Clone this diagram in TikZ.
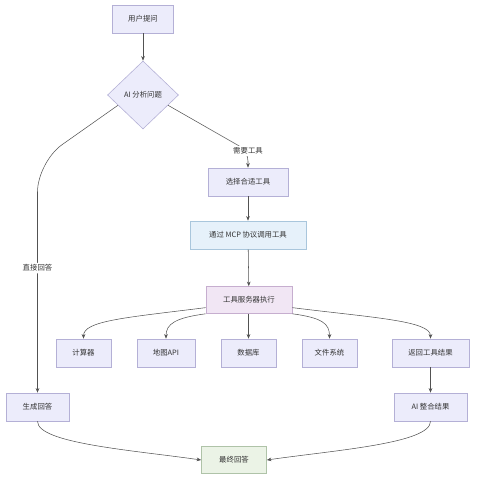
\documentclass[tikz,border=0pt]{standalone}
\usepackage{fontspec}
\setmainfont{Noto Sans CJK SC}
\usepackage{tikz}
\usetikzlibrary{arrows.meta,positioning,calc,shapes.geometric}
\definecolor{boxfill}{HTML}{ECECFB}
\definecolor{boxline}{HTML}{B4B0D6}
\definecolor{mcpfill}{HTML}{E6F1FA}
\definecolor{mcpline}{HTML}{A9C6DC}
\definecolor{srvfill}{HTML}{F1E6F4}
\definecolor{srvline}{HTML}{C6AECF}
\definecolor{endfill}{HTML}{EBF3E6}
\definecolor{endline}{HTML}{AFC3A8}
\definecolor{ink}{HTML}{333333}
\begin{document}
\begin{tikzpicture}[x=0.03cm,y=-0.03cm,
  box/.style={draw=boxline,fill=boxfill,line width=0.5pt,align=center,text=ink,
     font=\fontsize{6.3}{7.5}\selectfont,inner sep=0pt,minimum height=0.84cm,minimum width=#1},
  box/.default=1.65cm,
  dec/.style={diamond,draw=boxline,fill=boxfill,line width=0.5pt,text=ink,
     font=\fontsize{6.3}{7.5}\selectfont,inner sep=0pt,minimum width=2.13cm,minimum height=2.04cm},
  lbl/.style={fill=white,text=ink,font=\fontsize{6.3}{7.5}\selectfont,inner sep=1.5pt},
  arr/.style={-{Stealth[length=1.4mm,width=1.1mm]},draw=ink!85,line width=0.45pt}]
\useasboundingbox (0,0) rectangle (478,481);
\node[box=1.83cm] (ask) at (143,19) {用户提问};
\node[dec] (ai) at (143,95) {AI 分析问题};
\node[box=2.4cm] (pick) at (248,182) {选择合适工具};
\node[box=3.48cm,draw=mcpline,fill=mcpfill] (mcp) at (248,235) {通过 MCP 协议调用工具};
\node[box=2.58cm,draw=srvline,fill=srvfill,minimum height=0.81cm] (srv) at (249,300) {工具服务器执行};
\node[box] (calc) at (83.5,353) {计算器};
\node[box=1.74cm] (map) at (166,353) {地图API};
\node[box] (db) at (248.5,353) {数据库};
\node[box] (fs) at (329.5,353) {文件系统};
\node[box=2.31cm] (ret) at (430.5,353) {返回工具结果};
\node[box=1.89cm] (gen) at (37.5,407) {生成回答};
\node[box=2.19cm] (merge) at (430.5,407) {AI 整合结果};
\node[box=1.95cm,draw=endline,fill=endfill,minimum height=0.81cm] (final) at (234,460) {最终回答};
\coordinate (bendL) at (37.5,162);
\coordinate (bendR) at (248,151);
\draw[arr] (ask) -- (ai);
\draw[arr,rounded corners=0.9cm] ($(ai.west)!0.3!(ai.south)$) -- (bendL) -- node[lbl,pos=0.46]{直接回答} (gen.north);
\draw[arr,rounded corners=0.3cm] ($(ai.east)!0.3!(ai.south)$) -- (bendR) -- (pick.north);
\node[lbl] (need) at (bendR) {需要工具};
\draw[arr] (pick) -- (mcp);
\draw[arr] (mcp) -- (srv);
\draw[arr] (srv.190) .. controls +(-80,10) and +(0,-18) .. (calc.north);
\draw[arr] (srv.south west) .. controls +(-30,4) and +(0,-15) .. (map.north);
\draw[arr] (srv.south -| db.north) -- (db.north);
\draw[arr] (srv.south east) .. controls +(30,4) and +(0,-15) .. (fs.north);
\draw[arr] (srv.-10) .. controls +(80,10) and +(0,-18) .. (ret.north);
\draw[arr] (ret) -- (merge);
\draw[arr] (gen.south) .. controls +(0,22) and +(-70,-10) .. (final.west);
\draw[arr] (merge.south) .. controls +(0,22) and +(70,-10) .. (final.east);
\end{tikzpicture}
\end{document}
